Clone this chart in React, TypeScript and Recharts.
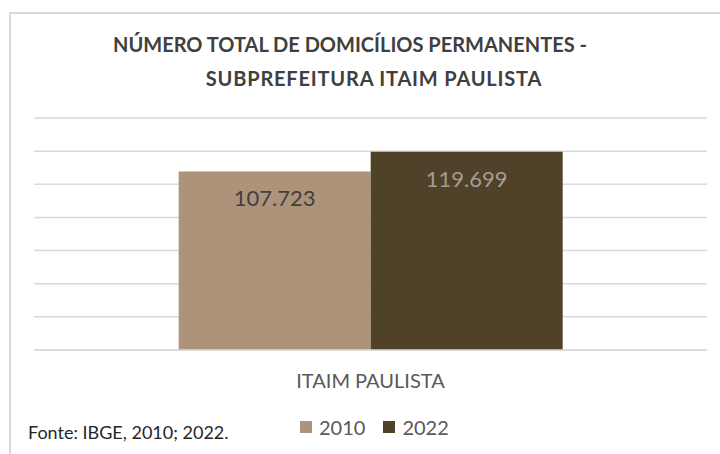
import { BarChart, Bar, XAxis, YAxis, CartesianGrid, Legend, LabelList } from 'recharts';

const categories = ['ITAIM PAULISTA'];
const values2010 = [107723];
const values2022 = [119699];
const yTicks = [0, 20000, 40000, 60000, 80000, 100000, 120000, 140000];
const seriesNames = ['2010', '2022'];
const seriesColors = ['#ad9379', '#4f4228'];
const labelColors = ['#404040', '#a29d94'];

const titleLines = ['NÚMERO TOTAL DE DOMICÍLIOS PERMANENTES -', 'SUBPREFEITURA ITAIM PAULISTA'];
const sourceText = 'Fonte: IBGE, 2010; 2022.';

const data = categories.map((name, i) => ({
  name,
  v2010: values2010[i],
  v2022: values2022[i],
}));

const FONT = 'Lato, "Open Sans", sans-serif';

// pt-BR thousands separator
const fmt = (v: number) => v.toLocaleString('pt-BR');

function makeLabel(color: string) {
  return function InsideTopLabel(props: any) {
    const { x, y, width, value } = props;
    return (
      <text x={x + width / 2} y={y + 35} textAnchor="middle" fill={color} fontSize={22} fontFamily={FONT}>
        {fmt(value)}
      </text>
    );
  };
}

function CategoryTick(props: any) {
  const { x, y, payload } = props;
  return (
    <text x={x} y={y} dy={38} textAnchor="middle" fill="#595959" fontSize={20} fontFamily={FONT}>
      {payload.value}
    </text>
  );
}

function LegendContent() {
  return (
    <div style={{ display: 'flex', alignItems: 'center', fontFamily: FONT, fontSize: 20, color: '#595959' }}>
      {seriesNames.map((n, i) => (
        <div key={n} style={{ display: 'flex', alignItems: 'center', marginRight: 18 }}>
          <div style={{ width: 12, height: 12, background: seriesColors[i], marginRight: 7 }} />
          <span>{n}</span>
        </div>
      ))}
    </div>
  );
}

export default function App() {
  return (
    <div style={{ position: 'absolute', left: 0, top: 0, width: 720, height: 454, overflow: 'hidden', background: '#fff' }}>
      {/* chart frame, runs off the right and bottom edges */}
      <div style={{ position: 'absolute', left: 9, top: 12, width: 740, height: 480, border: '2px solid #d9d9d9', boxSizing: 'border-box' }} />

      <div style={{ position: 'absolute', left: 0, top: 0, width: 720, height: 454 }}>
        <BarChart
          width={720}
          height={454}
          data={data}
          margin={{ top: 118, right: 13, left: 34, bottom: 0 }}
          barCategoryGap="21.5%"
          barGap={0}
        >
          <CartesianGrid vertical={false} stroke="#d9d9d9" strokeWidth={1.5} />
          <XAxis
            dataKey="name"
            height={104}
            tickLine={false}
            tickSize={0}
            tickMargin={0}
            axisLine={{ stroke: '#d9d9d9', strokeWidth: 1.5 }}
            tick={<CategoryTick />}
          />
          <YAxis hide domain={[0, 140000]} ticks={yTicks} />
          <Legend
            verticalAlign="middle"
            content={<LegendContent />}
            wrapperStyle={{ top: 415, left: 300, width: 'auto' }}
          />
          <Bar dataKey="v2010" name={seriesNames[0]} fill={seriesColors[0]} isAnimationActive={false}>
            <LabelList dataKey="v2010" content={makeLabel(labelColors[0])} />
          </Bar>
          <Bar dataKey="v2022" name={seriesNames[1]} fill={seriesColors[1]} isAnimationActive={false}>
            <LabelList dataKey="v2022" content={makeLabel(labelColors[1])} />
          </Bar>
        </BarChart>
      </div>

      <div style={{ position: 'absolute', top: 27, left: 0, width: 700, textAlign: 'center', fontFamily: FONT, fontWeight: 700, fontSize: 20, color: '#404040', lineHeight: '35px' }}>
        {titleLines[0]}
      </div>
      <div style={{ position: 'absolute', top: 61, left: 0, width: 748, textAlign: 'center', fontFamily: FONT, fontWeight: 700, fontSize: 20, color: '#404040', lineHeight: '35px', letterSpacing: 0.8 }}>
        {titleLines[1]}
      </div>

      <div style={{ position: 'absolute', top: 420, left: 28, fontFamily: FONT, fontSize: 18, color: '#262626', lineHeight: '24px' }}>
        {sourceText}
      </div>
    </div>
  );
}
